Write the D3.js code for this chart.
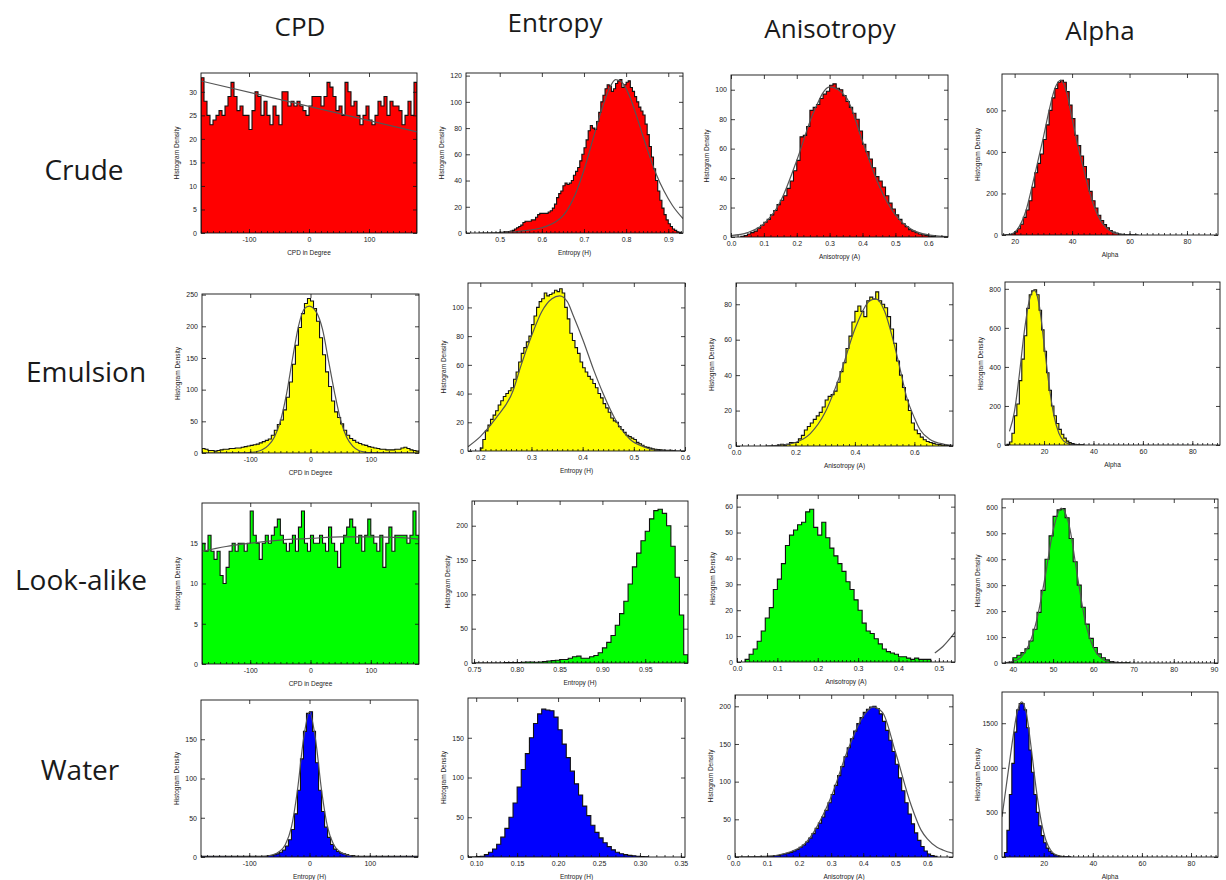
<!DOCTYPE html>
<html>
<head>
<meta charset="utf-8">
<script src="https://cdn.jsdelivr.net/npm/d3@7"></script>
<style>
  body { margin: 0; background: #fff; }
  .big { font-family: 'Open Sans', 'Noto Sans', sans-serif; fill: #1a1a1a; }
  .small { font-family: 'Liberation Sans', Arial, sans-serif; fill: #222; }
</style>
</head>
<body>
<svg id="chart" width="1226" height="880"></svg>
<script>
const columns = ['CPD', 'Entropy', 'Anisotropy', 'Alpha'];
const rows = ['Crude', 'Emulsion', 'Look-alike', 'Water'];
const rowColors = ['#ff0000', '#ffff00', '#00ff00', '#0000ff'];
const xLabels = [
  ['CPD in Degree', 'Entropy (H)', 'Anisotropy (A)', 'Alpha'],
  ['CPD in Degree', 'Entropy (H)', 'Anisotropy (A)', 'Alpha'],
  ['CPD in Degree', 'Entropy (H)', 'Anisotropy (A)', ''],
  ['Entropy (H)', 'Entropy (H)', 'Anisotropy (A)', 'Alpha']
];

// ---- Crude ----
const crudeCpdX = [-180, 180], crudeCpdY = [0, 34];
const crudeCpdXTicks = ['-100', '0', '100'];
const crudeCpdYTicks = ['0', '5', '10', '15', '20', '25', '30'];
const crudeCpdBin = [-180, 5];
const crudeCpdHist = [33,28,25,23,24,25,26,25,27,29,32,29,26,27,25,25,22,26,30,29,25,28,25,23,27,25,23,30,30,27,28,27,28,27,26,25,27,29,29,29,27,29,32,31,29,26,27,25,32,30,27,28,25,23,25,27,24,23,25,28,27,29,25,28,27,27,26,23,25,28,25,32];
const crudeCpdFit = [[-180, 32.3], [180, 21.5]];

const crudeEntropyX = [0.42, 0.935], crudeEntropyY = [0, 122];
const crudeEntropyXTicks = ['0.5', '0.6', '0.7', '0.8', '0.9'];
const crudeEntropyYTicks = ['0', '20', '40', '60', '80', '100', '120'];
const crudeEntropyBin = [0.5, 0.005];
const crudeEntropyHist = [0.5,0.5,1,1,1,1.5,2,3,4,5,6,8,9,9,9,10,10,12,14,15,15,15,15,16,17,19,22,27,30,32,36,38,37,38,40,44,47,50,55,60,65,71,78,82,80,79,85,92,100,105,110,113,112,108,110,114,116,117,111,113,115,116,111,108,104,100,96,93,90,83,75,66,58,49,40,32,25,19,14,10,7,5,3,2,1,0.5];
const crudeEntropyFit = [[0.45,0],[0.5,0.3],[0.55,1.5],[0.6,4],[0.63,8],[0.65,13],[0.68,30],[0.7,48],[0.72,70],[0.74,92],[0.76,110],[0.775,117],[0.79,115],[0.81,103],[0.83,84],[0.85,64],[0.87,46],[0.89,32],[0.91,21],[0.935,11]];

const crudeAnisoX = [0, 0.66], crudeAnisoY = [0, 110];
const crudeAnisoXTicks = ['0.0', '0.1', '0.2', '0.3', '0.4', '0.5', '0.6'];
const crudeAnisoYTicks = ['0', '20', '40', '60', '80', '100'];
const crudeAnisoBin = [0.03, 0.01];
const crudeAnisoHist = [0.5,1,2,3,4,6,8,10,12,15,18,22,25,28,33,38,45,52,68,69,75,86,88,90,94,97,99,103,104,101,100,96,92,88,84,80,72,63,58,53,47,41,38,34,28,23,19,15,12,9,7,5,4,3,2,1.5,1,0.5,0.3];
const crudeAnisoFit = [[0,1],[0.05,3],[0.1,9],[0.15,24],[0.2,52],[0.25,84],[0.3,102],[0.35,95],[0.4,65],[0.45,35],[0.5,15],[0.55,5],[0.6,1.5],[0.66,0.3]];

const crudeAlphaX = [15.6, 90.8], crudeAlphaY = [0, 775];
const crudeAlphaXTicks = ['20', '40', '60', '80'];
const crudeAlphaYTicks = ['0', '200', '400', '600'];
const crudeAlphaBin = [17, 1];
const crudeAlphaHist = [0.5,2,6,15,30,52,85,120,165,230,300,345,390,460,530,600,660,705,735,745,735,690,625,560,480,430,380,330,270,210,165,130,95,70,50,35,22,14,9,5,3,2,1.5,1,0.5,0.3];
const crudeAlphaFit = [[16,0],[18,2],[20,14],[22,50],[24,120],[26,230],[28,350],[30,470],[32,600],[34,705],[36,745],[38,690],[40,560],[42,430],[44,320],[46,210],[48,125],[50,68],[52,33],[54,14],[56,5],[58,2],[60,0.5],[63,0]];

// ---- Emulsion ----
const emulsionCpdX = [-180, 180], emulsionCpdY = [0, 251];
const emulsionCpdXTicks = ['-100', '0', '100'];
const emulsionCpdYTicks = ['0', '50', '100', '150', '200', '250'];
const emulsionCpdBin = [-180, 5];
const emulsionCpdHist = [7,6,4,4,3,4,5,6,6,7,7,8,8,9,10,11,12,13,14,16,18,20,22,28,36,45,52,68,88,112,140,170,198,220,236,244,240,228,208,182,155,128,105,82,65,56,46,36,28,23,20,17,15,13,12,10,9,8,7,6,6,5,5,5,6,6,8,9,7,5,4,3];
const emulsionCpdFit = [[-180,0],[-110,0.3],[-100,1],[-90,2],[-80,5],[-70,12],[-60,25],[-50,50],[-40,92],[-30,148],[-20,200],[-10,228],[-2,232],[10,222],[20,195],[30,145],[40,95],[50,52],[60,25],[70,11],[80,4],[90,1.5],[100,0.5],[180,0]];

const emulsionEntropyX = [0.176, 0.6], emulsionEntropyY = [0, 117];
const emulsionEntropyXTicks = ['0.2', '0.3', '0.4', '0.5', '0.6'];
const emulsionEntropyYTicks = ['0', '20', '40', '60', '80', '100'];
const emulsionEntropyBin = [0.2, 0.005];
const emulsionEntropyHist = [2,8,14,18,22,25,28,32,35,38,40,42,44,50,55,62,68,72,76,80,88,94,100,104,106,110,108,109,110,112,111,113,110,100,92,82,77,72,68,62,58,55,52,50,47,44,40,37,33,30,27,23,21,20,17,15,13,11,10,9,8,6,5,4,3,2.5,2,1.5,1.2,1,0.8,0.6,0.5,0.5,0.5,0.3];
const emulsionEntropyFit = [[0.176,3],[0.2,10],[0.231,23],[0.264,42],[0.28,60],[0.3,80],[0.32,97],[0.34,106],[0.355,108],[0.37,104],[0.382,94],[0.401,77],[0.421,57],[0.44,40],[0.467,20],[0.493,8],[0.519,3],[0.545,0.5],[0.6,0]];

const emulsionAnisoX = [0, 0.73], emulsionAnisoY = [0, 92];
const emulsionAnisoXTicks = ['0.0', '0.2', '0.4', '0.6'];
const emulsionAnisoYTicks = ['0', '20', '40', '60', '80'];
const emulsionAnisoBin = [0.14, 0.01];
const emulsionAnisoHist = [0.5,1,0.5,1,2,2,2,4,6,9,11,13,15,17,19,22,26,28,29,31,36,42,47,55,62,70,76,79,76,73,82,84,83,87,82,80,78,73,66,58,48,40,33,26,20,13,9,7,5,3.5,2.5,2,1.5,1,0.8,0.5,0.4,0.3];
const emulsionAnisoFit = [[0.1,0],[0.15,0.5],[0.2,2],[0.25,7],[0.3,19],[0.35,40],[0.4,66],[0.45,82],[0.47,83],[0.5,76],[0.525,62],[0.55,45],[0.575,27],[0.6,16],[0.62,9],[0.65,4],[0.7,1],[0.73,0.4]];

const emulsionAlphaX = [4.2, 91.2], emulsionAlphaY = [0, 835];
const emulsionAlphaXTicks = ['20', '40', '60', '80'];
const emulsionAlphaYTicks = ['0', '200', '400', '600', '800'];
const emulsionAlphaBin = [5, 1];
const emulsionAlphaHist = [3,15,60,150,210,330,440,560,700,770,790,795,770,690,590,480,370,280,200,150,110,80,55,35,20,12,7,4,2,1,0.5];
const emulsionAlphaFit = [[6,70],[8,170],[10,360],[12,580],[14,740],[16,795],[18,720],[20,520],[22,310],[24,150],[26,60],[28,20],[30,6],[32,1.5],[35,0.2]];

// ---- Look-alike ----
const lookCpdX = [-180, 180], lookCpdY = [0, 20];
const lookCpdXTicks = ['-100', '0', '100'];
const lookCpdYTicks = ['0', '5', '10', '15'];
const lookCpdBin = [-180, 5];
const lookCpdHist = [15,14,16,14,13,14,11,10,12,14,15,14,15,15,14,15,19,16,15,13,15,16,15,16,17,18,16,15,14,15,16,14,17,19,15,14,16,15,15,16,15,14,17,15,14,12,15,16,17,18,17,15,16,14,16,18,16,15,14,16,12,15,17,14,16,16,16,16,15,16,19,16];
const lookCpdFit = [[-180,14],[-140,14.6],[-100,15.0],[-50,15.4],[0,15.6],[50,15.8],[100,15.8],[150,15.7],[180,15.5]];

const lookEntropyX = [0.7476, 1.0], lookEntropyY = [0, 236];
const lookEntropyXTicks = ['0.75', '0.80', '0.85', '0.90', '0.95'];
const lookEntropyYTicks = ['0', '50', '100', '150', '200'];
const lookEntropyBin = [0.75, 0.005];
const lookEntropyHist = [0,0,0,0,0,0,0,0.5,0.5,0.5,0.5,1,1.5,1.5,1,1.5,2,3,3.5,4,5,5,7,9,10,7,7,9,11,15,22,30,40,55,72,90,115,140,160,178,192,210,222,224,218,200,170,125,70,12];
const lookEntropyFit = null;

const lookAnisoX = [0, 0.54], lookAnisoY = [0, 64.5];
const lookAnisoXTicks = ['0.0', '0.1', '0.2', '0.3', '0.4', '0.5'];
const lookAnisoYTicks = ['0', '10', '20', '30', '40', '50', '60'];
const lookAnisoBin = [0.02, 0.01];
const lookAnisoHist = [1,3,5,8,12,17,21,28,32,38,45,49,51,53,54,58,59,52,49,54,48,44,41,38,35,31,28,24,20,15,12,11,9,7,5,4,3.5,3,2,2,1.5,1,1.5,1,1,1];
const lookAnisoFit = [[0.49,3.5],[0.51,6],[0.53,9.5],[0.55,13.5]];

const lookAlphaX = [37.3, 91], lookAlphaY = [0, 632];
const lookAlphaXTicks = ['40', '50', '60', '70', '80', '90'];
const lookAlphaYTicks = ['0', '100', '200', '300', '400', '500', '600'];
const lookAlphaBin = [39, 1];
const lookAlphaHist = [2,20,30,40,55,85,130,195,280,400,490,565,590,595,560,480,390,300,215,150,95,60,35,20,12,6,3,1.5,1,0.5];
const lookAlphaFit = [[38,1],[40,6],[42,22],[44,70],[46,170],[48,330],[50,510],[52,597],[54,530],[56,340],[58,160],[60,60],[62,18],[64,4],[66,1],[68,0.2]];

// ---- Water ----
const waterCpdX = [-180, 180], waterCpdY = [0, 200];
const waterCpdXTicks = ['-100', '0', '100'];
const waterCpdYTicks = ['0', '50', '100', '150'];
const waterCpdBin = [-180, 5];
const waterCpdHist = [1,1,1,1,1,1,1,1,1,1,1,1,1,1,1,1,1,1,1,1,1,1,2,2,3,4,6,9,14,22,35,55,85,125,160,183,185,160,120,85,58,38,25,16,10,7,5,4,3,2,2,1,1,1,1,1,1,1,1,1,1,1,1,1,1,1,1,1,1,1,1,1];
const waterCpdFit = [[-180,0],[-80,0.5],[-60,3],[-50,7],[-40,16],[-30,38],[-20,85],[-10,150],[0,185],[10,150],[20,85],[30,38],[40,16],[50,7],[60,3],[80,0.5],[180,0]];

const waterEntropyX = [0.09, 0.355], waterEntropyY = [0, 200];
const waterEntropyXTicks = ['0.10', '0.15', '0.20', '0.25', '0.30', '0.35'];
const waterEntropyYTicks = ['0', '50', '100', '150'];
const waterEntropyBin = [0.09, 0.005];
const waterEntropyHist = [0,0,0.5,1,3,6,10,16,25,36,50,68,88,110,130,150,168,180,186,185,184,176,160,142,125,108,92,78,64,52,40,31,24,18,13,9,6,4,3,2,1.5,1,0.5,0.3];
const waterEntropyFit = null;

const waterAnisoX = [0, 0.68], waterAnisoY = [0, 215];
const waterAnisoXTicks = ['0.0', '0.1', '0.2', '0.3', '0.4', '0.5', '0.6'];
const waterAnisoYTicks = ['0', '50', '100', '150', '200'];
const waterAnisoBin = [0.1, 0.01];
const waterAnisoHist = [1,1,2,2,3,4,5,6,8,10,13,16,20,25,31,38,45,53,62,72,83,95,108,120,133,145,157,167,177,185,192,196,199,200,197,190,180,168,155,140,123,105,88,72,57,44,32,22,14,8,4,2,1];
const waterAnisoFit = [[0,0],[0.1,1],[0.2,12],[0.3,80],[0.35,140],[0.4,187],[0.43,199],[0.46,192],[0.5,140],[0.55,68],[0.58,36],[0.6,24],[0.63,13],[0.65,9],[0.68,5]];

const waterAlphaX = [3, 91], waterAlphaY = [0, 1850];
const waterAlphaXTicks = ['20', '40', '60', '80'];
const waterAlphaYTicks = ['0', '500', '1000', '1500'];
const waterAlphaBin = [4, 1];
const waterAlphaHist = [50,300,700,1050,1400,1650,1720,1720,1650,1450,1200,950,700,500,350,240,160,100,65,40,25,15,9,5,3,2,1];
const waterAlphaFit = [[3,450],[5,850],[7,1250],[9,1600],[11,1740],[13,1600],[15,1200],[17,750],[19,400],[21,180],[23,70],[25,25],[28,5]];

// panel table built from the arrays above
const panels = [
  [crudeCpdX, crudeCpdY, crudeCpdXTicks, crudeCpdYTicks, crudeCpdBin, crudeCpdHist, crudeCpdFit, 10],
  [crudeEntropyX, crudeEntropyY, crudeEntropyXTicks, crudeEntropyYTicks, crudeEntropyBin, crudeEntropyHist, crudeEntropyFit, 0.01],
  [crudeAnisoX, crudeAnisoY, crudeAnisoXTicks, crudeAnisoYTicks, crudeAnisoBin, crudeAnisoHist, crudeAnisoFit, 0.02],
  [crudeAlphaX, crudeAlphaY, crudeAlphaXTicks, crudeAlphaYTicks, crudeAlphaBin, crudeAlphaHist, crudeAlphaFit, 2],
  [emulsionCpdX, emulsionCpdY, emulsionCpdXTicks, emulsionCpdYTicks, emulsionCpdBin, emulsionCpdHist, emulsionCpdFit, 10],
  [emulsionEntropyX, emulsionEntropyY, emulsionEntropyXTicks, emulsionEntropyYTicks, emulsionEntropyBin, emulsionEntropyHist, emulsionEntropyFit, 0.01],
  [emulsionAnisoX, emulsionAnisoY, emulsionAnisoXTicks, emulsionAnisoYTicks, emulsionAnisoBin, emulsionAnisoHist, emulsionAnisoFit, 0.02],
  [emulsionAlphaX, emulsionAlphaY, emulsionAlphaXTicks, emulsionAlphaYTicks, emulsionAlphaBin, emulsionAlphaHist, emulsionAlphaFit, 2],
  [lookCpdX, lookCpdY, lookCpdXTicks, lookCpdYTicks, lookCpdBin, lookCpdHist, lookCpdFit, 10],
  [lookEntropyX, lookEntropyY, lookEntropyXTicks, lookEntropyYTicks, lookEntropyBin, lookEntropyHist, lookEntropyFit, 0.005],
  [lookAnisoX, lookAnisoY, lookAnisoXTicks, lookAnisoYTicks, lookAnisoBin, lookAnisoHist, lookAnisoFit, 0.01],
  [lookAlphaX, lookAlphaY, lookAlphaXTicks, lookAlphaYTicks, lookAlphaBin, lookAlphaHist, lookAlphaFit, 1],
  [waterCpdX, waterCpdY, waterCpdXTicks, waterCpdYTicks, waterCpdBin, waterCpdHist, waterCpdFit, 10],
  [waterEntropyX, waterEntropyY, waterEntropyXTicks, waterEntropyYTicks, waterEntropyBin, waterEntropyHist, waterEntropyFit, 0.01],
  [waterAnisoX, waterAnisoY, waterAnisoXTicks, waterAnisoYTicks, waterAnisoBin, waterAnisoHist, waterAnisoFit, 0.02],
  [waterAlphaX, waterAlphaY, waterAlphaXTicks, waterAlphaYTicks, waterAlphaBin, waterAlphaHist, waterAlphaFit, 2]
];

// layout: plot boxes [left, top, right, bottom]
const boxes = [
  [201, 73, 417, 233], [466, 73, 683, 233], [731, 75, 948, 237], [1002, 74, 1218, 235],
  [202, 294, 419, 453], [468, 283, 685, 451], [736, 283, 953, 446], [1005, 282, 1220, 445],
  [202, 503, 419, 664], [472, 501, 688, 663], [737, 495, 955, 662], [1002, 499, 1218, 663],
  [201, 700, 418, 857], [468, 698, 685, 857], [735, 695, 953, 857], [1002, 692, 1218, 857]
];
const colTitlePos = [[300, 36], [555, 32], [830, 38], [1100, 40]];
const rowTitlePos = [[84, 180], [86, 382], [81, 590], [80, 780]];

const svg = d3.select('#chart');

columns.forEach((c, i) => {
  svg.append('text').attr('class', 'big')
    .attr('x', colTitlePos[i][0]).attr('y', colTitlePos[i][1])
    .attr('text-anchor', 'middle').attr('font-size', 26).text(c);
});
rows.forEach((r, i) => {
  svg.append('text').attr('class', 'big')
    .attr('x', rowTitlePos[i][0]).attr('y', rowTitlePos[i][1])
    .attr('text-anchor', 'middle').attr('font-size', 28).text(r);
});

function styleAxis(g) {
  g.select('.domain').remove();
  g.selectAll('line').attr('stroke', '#111').attr('stroke-width', 0.8);
  g.selectAll('text').attr('class', 'small').attr('font-size', 7).attr('fill', '#222');
  g.attr('font-family', null).attr('font-size', null);
}

panels.forEach((p, k) => {
  const [xd, yd, xt, yt, bin, hist, fit, minorStep] = p;
  const [l, t, r, b] = boxes[k];
  const row = Math.floor(k / 4), col = k % 4;
  const x = d3.scaleLinear().domain(xd).range([l, r]);
  const y = d3.scaleLinear().domain(yd).range([b, t]);
  const g = svg.append('g');

  const clipId = 'clip' + k;
  svg.append('clipPath').attr('id', clipId)
    .append('rect').attr('x', l).attr('y', t).attr('width', r - l).attr('height', b - t);
  const plot = g.append('g').attr('clip-path', `url(#${clipId})`);

  // histogram as step polygon
  const pts = hist.map((v, i) => [bin[0] + i * bin[1], v]);
  const xEnd = bin[0] + hist.length * bin[1];
  const stepPts = [[bin[0], 0], ...pts, [xEnd, 0]];

  plot.append('path')
    .datum(stepPts)
    .attr('fill', rowColors[row])
    .attr('d', d3.area().x(d => x(d[0])).y0(y(0)).y1(d => y(d[1])).curve(d3.curveStepAfter));
  plot.append('path')
    .datum(stepPts)
    .attr('fill', 'none').attr('stroke', '#111').attr('stroke-width', 1.1)
    .attr('d', d3.line().x(d => x(d[0])).y(d => y(d[1])).curve(d3.curveStepAfter));

  if (fit) {
    plot.append('path')
      .datum(fit)
      .attr('fill', 'none').attr('stroke', '#555').attr('stroke-width', 1.2)
      .attr('d', d3.line().x(d => x(d[0])).y(d => y(d[1])).curve(d3.curveMonotoneX));
  }

  // axes, IDL style: inward ticks on all four sides
  const xMajor = xt.map(Number);
  const yMajor = yt.map(Number);
  const minorVals = d3.range(Math.ceil(xd[0] / minorStep) * minorStep, xd[1], minorStep);

  g.append('g').attr('transform', `translate(0,${b})`)
    .call(d3.axisBottom(x).tickValues(minorVals).tickSize(-2).tickFormat(''))
    .call(styleAxis);
  g.append('g').attr('transform', `translate(0,${b})`)
    .call(d3.axisBottom(x).tickValues(xMajor).tickSize(-4).tickPadding(4).tickFormat((d, i) => xt[i]))
    .call(styleAxis);
  g.append('g').attr('transform', `translate(0,${t})`)
    .call(d3.axisTop(x).tickValues(xMajor).tickSize(-4).tickFormat(''))
    .call(styleAxis);
  g.append('g').attr('transform', `translate(${l},0)`)
    .call(d3.axisLeft(y).tickValues(yMajor).tickSize(-4).tickPadding(4).tickFormat((d, i) => yt[i]))
    .call(styleAxis);
  g.append('g').attr('transform', `translate(${r},0)`)
    .call(d3.axisRight(y).tickValues(yMajor).tickSize(-4).tickFormat(''))
    .call(styleAxis);

  g.append('rect')
    .attr('x', l).attr('y', t).attr('width', r - l).attr('height', b - t)
    .attr('fill', 'none').attr('stroke', '#111').attr('stroke-width', 0.9);

  g.append('text').attr('class', 'small')
    .attr('transform', `translate(${l - 22},${(t + b) / 2}) rotate(-90)`)
    .attr('text-anchor', 'middle').attr('font-size', 6.5)
    .text('Histogram Density');
  if (xLabels[row][col]) {
    g.append('text').attr('class', 'small')
      .attr('x', (l + r) / 2).attr('y', b + 22)
      .attr('text-anchor', 'middle').attr('font-size', 6.5)
      .text(xLabels[row][col]);
  }
});
</script>
</body>
</html>
